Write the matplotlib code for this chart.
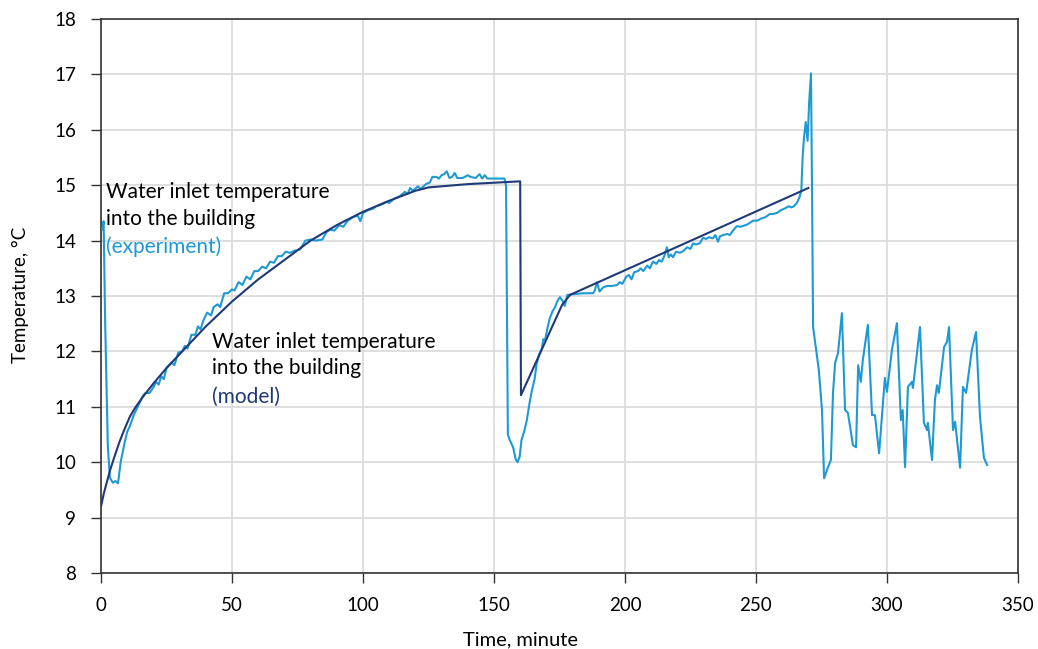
import matplotlib.pyplot as plt

plt.rcParams['font.family'] = ['Lato', 'DejaVu Sans']

# measured water inlet temperature (experiment)
exp_t = [0.5, 1, 1.6, 2.6, 3.4, 4.5, 5.5, 6.5, 7.5, 9, 10, 11, 12.5, 14, 15, 16, 17, 18.5,
         20, 21, 22, 23, 24, 25, 27, 28, 29.5, 31, 32, 33, 34.5, 36, 37, 38, 39, 40.5,
         42, 43, 44.5, 45.5, 47, 48.5, 50, 51, 52.5, 54, 55.5, 57, 58.5, 60, 61.5, 63,
         64.5, 66, 67.5, 69, 70.5, 72, 74, 76, 78, 80, 82, 84.5, 86, 87.5, 89, 91, 92.5,
         94, 96, 98, 99, 100, 102, 104, 105, 107, 109, 110, 112, 114, 116, 117, 118, 119,
         121, 122, 124, 125.5, 126.5, 128, 129, 130, 131, 132, 133, 134, 135, 136, 138,
         140, 141, 143, 144.5, 145.5, 146.5, 147.5, 150, 152, 154, 154.6, 155.3, 156,
         157.3, 158.3, 159, 159.8, 160.5, 161.5, 162.5, 163.5, 164.5, 165.5, 166.3, 167.3,
         168.3, 168.8, 169.5, 170.3, 171.3, 172.3, 173.3, 174.3, 175.2, 176.3, 177, 178,
         180, 182, 184, 186, 187.8, 188.5, 189.3, 190.3, 191.5, 193, 195, 197, 198, 199,
         200.5, 201.5, 202.5, 203.5, 205, 206, 207, 208.5, 209.5, 210.7, 212, 213, 214,
         215, 216, 216.7, 217.5, 218.3, 219.5, 221, 222.5, 223.7, 225, 226, 227, 228.5,
         229.8, 231, 232, 233.5, 234.5, 235.5, 236.3, 237.5, 239, 240, 241.5, 242.7, 244,
         245.5, 247, 248.9, 250.5, 252, 253.5, 255.3, 256.5, 258, 259.5, 261, 262.5, 263.5,
         264.5, 265.6, 266.6, 267.3, 267.8, 268.3, 269, 269.7, 270.3, 271, 271.4, 271.8,
         273.3, 274, 275.2, 276, 277.5, 278.6, 279.4, 280.2, 281.3, 282.8, 284, 285.1, 287,
         288.2, 289, 290, 290.8, 292.7, 294.3, 295.4, 297, 299.2, 300, 301.9, 303.8, 305.3,
         306, 306.9, 308, 309.5, 309.9, 312.6, 314.1, 315.3, 315.6, 317.2, 318.3, 319.1,
         319.8, 321.8, 322.9, 323.7, 325.2, 326, 327.9, 329, 330.2, 332.4, 334, 335.5, 337,
         338.2]
exp_T = [14.2, 14.35, 12.5, 10.3, 9.72, 9.63, 9.66, 9.62, 10.0, 10.35, 10.55, 10.65, 10.85,
         11.0, 11.1, 11.2, 11.25, 11.25, 11.35, 11.45, 11.4, 11.55, 11.5, 11.7, 11.8, 11.75,
         11.98, 12.0, 12.1, 12.05, 12.3, 12.3, 12.45, 12.4, 12.55, 12.7, 12.65, 12.8, 12.85,
         12.8, 13.05, 13.05, 13.12, 13.1, 13.25, 13.2, 13.35, 13.3, 13.45, 13.45, 13.53, 13.5,
         13.62, 13.6, 13.72, 13.72, 13.8, 13.78, 13.82, 13.84, 14.0, 14.02, 14.0, 14.02, 14.15,
         14.2, 14.18, 14.28, 14.25, 14.35, 14.42, 14.45, 14.35, 14.5, 14.55, 14.58, 14.62,
         14.65, 14.7, 14.68, 14.76, 14.8, 14.88, 14.84, 14.95, 14.9, 14.98, 14.93, 15.02,
         15.05, 15.15, 15.15, 15.12, 15.18, 15.2, 15.25, 15.13, 15.15, 15.22, 15.13, 15.13,
         15.18, 15.15, 15.13, 15.2, 15.12, 15.18, 15.12, 15.12, 15.12, 15.12, 15.0, 10.5,
         10.4, 10.27, 10.05, 10.0, 10.1, 10.4, 10.55, 10.75, 11.05, 11.3, 11.5, 11.78, 11.95,
         12.05, 12.22, 12.2, 12.4, 12.6, 12.72, 12.8, 12.92, 12.98, 12.9, 12.82, 13.02, 13.03,
         13.04, 13.05, 13.05, 13.05, 13.1, 13.25, 13.08, 13.15, 13.18, 13.18, 13.2, 13.25,
         13.22, 13.35, 13.38, 13.3, 13.43, 13.45, 13.5, 13.45, 13.55, 13.5, 13.62, 13.58,
         13.65, 13.62, 13.72, 13.88, 13.7, 13.75, 13.7, 13.8, 13.78, 13.82, 13.88, 13.85,
         13.95, 13.93, 13.95, 14.05, 14.03, 14.06, 14.04, 14.1, 13.98, 14.08, 14.1, 14.12,
         14.1, 14.2, 14.26, 14.25, 14.27, 14.3, 14.36, 14.36, 14.4, 14.42, 14.48, 14.48,
         14.5, 14.55, 14.58, 14.62, 14.6, 14.62, 14.68, 14.78, 14.9, 15.5, 15.85, 16.14, 15.8,
         16.5, 17.02, 14.9, 12.44, 11.9, 11.66, 10.94, 9.71, 9.91, 10.04, 11.25, 11.79, 11.97,
         12.69, 10.94, 10.89, 10.31, 10.27, 11.75, 11.45, 11.85, 12.48, 10.85, 10.85, 10.16,
         11.52, 11.27, 12.03, 12.51, 10.76, 10.94, 9.91, 11.36, 11.45, 11.34, 12.44, 10.71,
         10.58, 10.71, 10.04, 11.12, 11.39, 11.25, 12.08, 12.17, 12.44, 10.58, 10.73, 9.9,
         11.36, 11.25, 12.03, 12.35, 10.82, 10.08, 9.95]

# model water inlet temperature
mod_t = [0, 1, 2, 3.5, 5, 7, 9, 11, 13, 16, 20, 25, 30, 40, 50, 60, 70, 80, 90, 100, 110,
         120, 125, 140, 160, 160.3, 176, 179, 270]
mod_T = [9.2, 9.42, 9.6, 9.86, 10.08, 10.36, 10.6, 10.82, 10.98, 11.18, 11.42, 11.7, 11.95,
         12.45, 12.9, 13.3, 13.65, 14.0, 14.28, 14.52, 14.72, 14.9, 14.96, 15.02, 15.07,
         11.21, 12.84, 13.02, 14.95]

exp_color = '#1e9ad3'
mod_color = '#1f3a78'

fig = plt.figure(figsize=(10.38, 6.49), dpi=100)
ax = fig.add_axes([0.0973, 0.1171, 0.8834, 0.8536])

ax.plot(exp_t, exp_T, color=exp_color, lw=1.5, zorder=3)
ax.plot(mod_t, mod_T, color=mod_color, lw=1.5, zorder=4)

ax.set_xlim(0, 350)
ax.set_ylim(8, 18)
ax.set_xticks(range(0, 351, 50))
ax.set_yticks(range(8, 19))
ax.grid(True, color='#d9d9d9', lw=1.2)
ax.set_axisbelow(True)
for s in ax.spines.values():
    s.set_color('#333333')
    s.set_linewidth(1.2)
ax.tick_params(direction='out', length=7, width=1.0, color='#333333', labelsize=13.5)
ax.tick_params(axis='x', pad=10)
ax.tick_params(axis='y', pad=11)
ax.set_xlabel('Time, minute', fontsize=14.5)
ax.set_ylabel('Temperature, °C', fontsize=13.5)
ax.xaxis.set_label_coords(0.458, -0.105)
ax.yaxis.set_label_coords(-0.078, 0.502)

fs = 15
ax.text(1.9, 14.88, 'Water inlet temperature', fontsize=fs, va='center')
ax.text(1.9, 14.39, 'into the building', fontsize=fs, va='center')
ax.text(1.9, 13.89, '(experiment)', fontsize=fs, va='center', color=exp_color)
ax.text(42.4, 12.17, 'Water inlet temperature', fontsize=fs, va='center')
ax.text(42.4, 11.70, 'into the building', fontsize=fs, va='center')
ax.text(42.4, 11.18, '(model)', fontsize=fs, va='center', color=mod_color)

fig.savefig('out.png', dpi=100)
